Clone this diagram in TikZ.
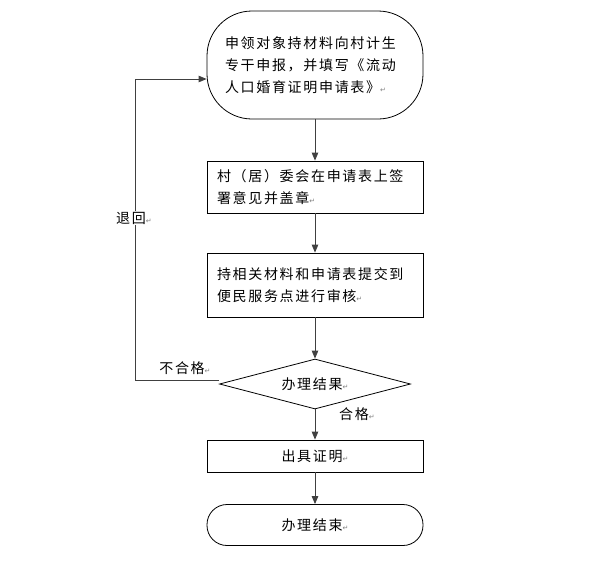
\documentclass[tikz,border=0pt]{standalone}
\usepackage{fontspec}
\setmainfont{Noto Sans CJK SC}[LetterSpace=12]
\newfontfamily\pmfont{DejaVu Sans}
\usetikzlibrary{shapes.geometric,arrows.meta}
\newcommand\pmk{{\pmfont\fontsize{7}{7}\selectfont\color{gray}↵}}
\begin{document}
\begin{tikzpicture}[x=1pt,y=-1pt,
  box/.style={draw=black,line width=0.8pt,minimum width=216pt,inner sep=0pt,
    font=\fontsize{14}{22}\selectfont,align=left},
  conn/.style={draw=black!75,line width=0.9pt,-{Triangle[length=8pt,width=6.5pt]}},
  lbl/.style={font=\fontsize{14}{18}\selectfont,inner sep=1pt}]
\useasboundingbox (0,0) rectangle (598,563);
\node[box,rounded corners=45pt,minimum height=108pt,text width=180pt] (s) at (315,65)
  {申领对象持材料向村计生\\专干申报，并填写《流动\\人口婚育证明申请表》\pmk};
\node[box,minimum height=52pt,text width=196pt] (b1) at (315,187)
  {村（居）委会在申请表上签\\署意见并盖章\pmk};
\node[box,minimum height=64pt,text width=196pt] (b2) at (315,285)
  {持相关材料和申请表提交到\\便民服务点进行审核\pmk\\[4pt]};
\node[box,diamond,aspect=3.82,minimum width=191pt,minimum height=50pt,align=center] (d) at (315,384)
  {办理结果\pmk};
\node[box,minimum height=32pt,align=center] (c) at (315,456) {出具证明\pmk};
\node[box,rounded corners=20pt,minimum height=41pt,align=center] (e) at (315,525)
  {办理结束\pmk};
\coordinate (ret) at ([yshift=-14pt]s.west);
\draw[conn] (s) -- (b1);
\draw[conn] (b1) -- (b2);
\draw[conn] (b2) -- (d);
\draw[conn] (d) -- (c);
\draw[conn] (c) -- (e);
\draw[conn] ([yshift=4pt]d.west) -- ++(-84,0) |- (ret);
\node[lbl,fill=white] (l1) at (134,218) {退回\pmk};
\node[lbl] (l2) at (185,368) {不合格\pmk};
\node[lbl] (l3) at (357,414) {合格\pmk};
\end{tikzpicture}
\end{document}
